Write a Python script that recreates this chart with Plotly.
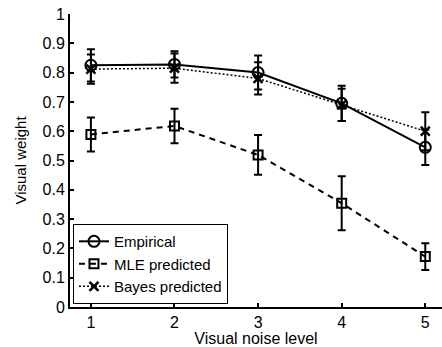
import plotly.graph_objects as go

noise_levels = [1, 2, 3, 4, 5]
empirical = [0.825, 0.828, 0.80, 0.695, 0.545]
empirical_err = [0.055, 0.045, 0.058, 0.06, 0.06]
mle = [0.589, 0.618, 0.519, 0.354, 0.172]
mle_err = [0.058, 0.059, 0.068, 0.092, 0.046]
bayes = [0.812, 0.815, 0.78, 0.69, 0.60]
bayes_err = [0.05, 0.05, 0.055, 0.055, 0.065]

fig = go.Figure()

fig.add_trace(go.Scatter(
    x=noise_levels, y=empirical, name="Empirical", mode="lines+markers",
    line=dict(color="black", width=2),
    marker=dict(symbol="circle-open", size=11, color="black", line=dict(width=2)),
    error_y=dict(type="data", array=empirical_err, color="black", thickness=2, width=4),
))
fig.add_trace(go.Scatter(
    x=noise_levels, y=mle, name="MLE predicted", mode="lines+markers",
    line=dict(color="black", width=2, dash="6px,5px"),
    marker=dict(symbol="square-open", size=9, color="black", line=dict(width=2)),
    error_y=dict(type="data", array=mle_err, color="black", thickness=2, width=4),
))
fig.add_trace(go.Scatter(
    x=noise_levels, y=bayes, name="Bayes predicted", mode="lines+markers",
    line=dict(color="black", width=1.5, dash="2px,2px"),
    marker=dict(symbol="x-thin-open", size=9, color="black", line=dict(width=2.5, color="black")),
    error_y=dict(type="data", array=bayes_err, color="black", thickness=2, width=4),
))

font_family = "Liberation Sans, Arial, sans-serif"

fig.update_layout(
    width=442, height=347,
    margin=dict(l=70, r=0, t=14, b=40),
    paper_bgcolor="white", plot_bgcolor="white",
    font=dict(family=font_family, size=16, color="black"),
    showlegend=True,
    legend=dict(
        x=0.008, y=0.01, xanchor="left", yanchor="bottom",
        bgcolor="white", bordercolor="black", borderwidth=1,
        font=dict(size=15), tracegroupgap=0, itemwidth=30,
    ),
    xaxis=dict(
        range=[0.75, 5.2], tickvals=noise_levels, ticktext=[str(v) for v in noise_levels],
        showgrid=False, zeroline=False, showline=True, linecolor="black", linewidth=2,
        ticks="inside", ticklen=4, tickwidth=2, tickcolor="black",
        title=dict(text="Visual noise level", font=dict(size=16), standoff=1),
    ),
    yaxis=dict(
        range=[0, 1], tickvals=[0, 0.1, 0.2, 0.3, 0.4, 0.5, 0.6, 0.7, 0.8, 0.9, 1],
        ticktext=["0", "0.1", "0.2", "0.3", "0.4", "0.5", "0.6", "0.7", "0.8", "0.9", "1"],
        showgrid=False, zeroline=False, showline=True, linecolor="black", linewidth=2,
        ticks="inside", ticklen=4, tickwidth=2, tickcolor="black",
        title=dict(text="Visual weight", font=dict(size=15), standoff=12),
    ),
)

fig.write_html("out.html")
